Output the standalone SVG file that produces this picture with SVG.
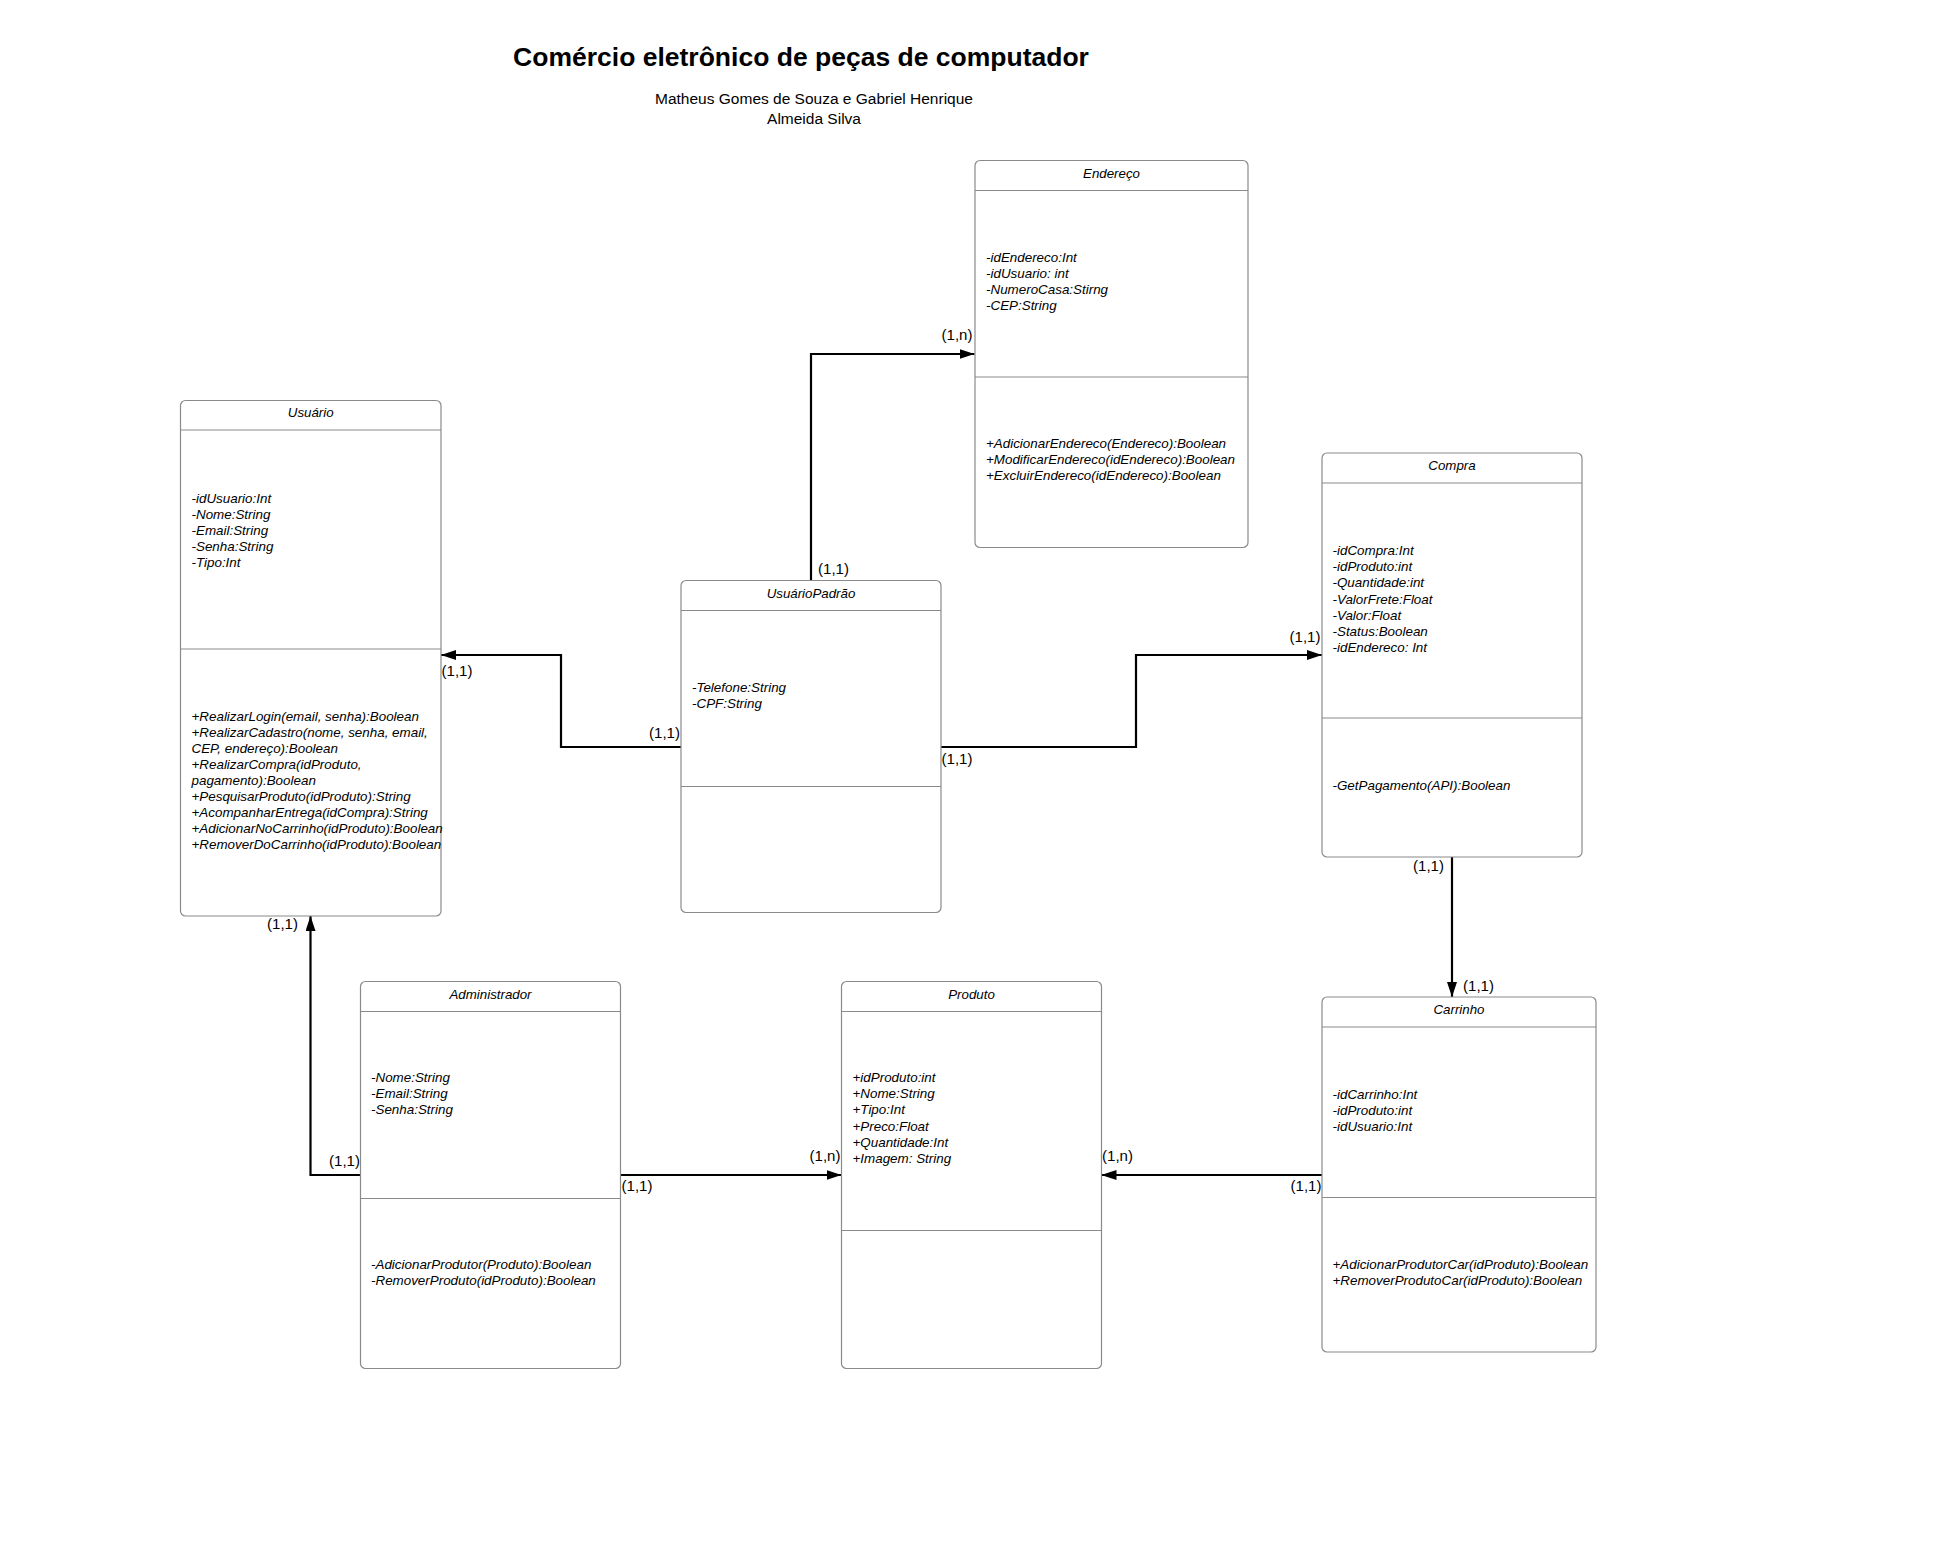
<svg xmlns="http://www.w3.org/2000/svg" width="1936" height="1563" viewBox="0 0 1936 1563">
  <style>
    .box { fill: #ffffff; stroke: #8a8a8a; stroke-width: 1.2; }
    .sep { stroke: #8a8a8a; stroke-width: 1.2; fill: none; }
    .hdr { font-family: "Liberation Sans", Arial, sans-serif; font-style: italic; font-size: 13.3px; fill: #000; text-anchor: middle; }
    .mem { font-family: "Liberation Sans", Arial, sans-serif; font-style: italic; font-size: 13.4px; fill: #000; }
    .edge { fill: none; stroke: #000; stroke-width: 2.2; marker-end: url(#arrow); }
    .card { font-family: "Liberation Sans", Arial, sans-serif; font-size: 15px; fill: #000; text-anchor: middle; }
    .title { font-family: "Liberation Sans", Arial, sans-serif; font-weight: bold; font-size: 26.5px; fill: #000; text-anchor: middle; }
    .sub { font-family: "Liberation Sans", Arial, sans-serif; font-size: 15.5px; fill: #000; text-anchor: middle; }
  </style>
  <defs>
    <marker id="arrow" viewBox="0 0 15 10" refX="15" refY="5" markerWidth="15" markerHeight="10" markerUnits="userSpaceOnUse" orient="auto">
      <path d="M0,0 L15,5 L0,10 Z" fill="#000"/>
    </marker>
  </defs>

  <rect width="1936" height="1563" fill="#ffffff"/>

  <!-- heading -->
  <g id="heading">
    <text class="title" x="801" y="66">Comércio eletrônico de peças de computador</text>
    <text class="sub" x="814" y="104">Matheus Gomes de Souza e Gabriel Henrique</text>
    <text class="sub" x="814" y="123.5">Almeida Silva</text>
  </g>

  <!-- connectors -->
  <g id="connectors">
    <path class="edge" d="M811,580.5 V354 H974.5"/>
    <path class="edge" d="M681,747 H561 V655 H441"/>
    <path class="edge" d="M941,747 H1136 V655 H1322"/>
    <path class="edge" d="M1452,857 V997"/>
    <path class="edge" d="M360.5,1175 H310.5 V916"/>
    <path class="edge" d="M620.5,1175 H841.5"/>
    <path class="edge" d="M1322,1175 H1101.5"/>

    <text class="card" x="833.5" y="574">(1,1)</text>
    <text class="card" x="957" y="340">(1,n)</text>
    <text class="card" x="457" y="676">(1,1)</text>
    <text class="card" x="664.5" y="737.5">(1,1)</text>
    <text class="card" x="957" y="764">(1,1)</text>
    <text class="card" x="1305" y="642">(1,1)</text>
    <text class="card" x="1428.5" y="871">(1,1)</text>
    <text class="card" x="1478.5" y="991">(1,1)</text>
    <text class="card" x="282.5" y="929">(1,1)</text>
    <text class="card" x="344.5" y="1166">(1,1)</text>
    <text class="card" x="637" y="1191">(1,1)</text>
    <text class="card" x="825" y="1161">(1,n)</text>
    <text class="card" x="1117.5" y="1161">(1,n)</text>
    <text class="card" x="1306" y="1191">(1,1)</text>
  </g>

  <!-- class Endereço -->
  <g id="endereco">
    <rect class="box" x="975" y="160.5" width="273" height="387" rx="5"/>
    <line class="sep" x1="975" y1="190.5" x2="1248" y2="190.5"/>
    <line class="sep" x1="975" y1="377" x2="1248" y2="377"/>
    <text class="hdr" x="1111.5" y="177.5">Endereço</text>
    <text class="mem" x="986" y="261.5">-idEndereco:Int</text>
    <text class="mem" x="986" y="277.5">-idUsuario: int</text>
    <text class="mem" x="986" y="293.5">-NumeroCasa:Stirng</text>
    <text class="mem" x="986" y="309.5">-CEP:String</text>
    <text class="mem" x="986" y="448">+AdicionarEndereco(Endereco):Boolean</text>
    <text class="mem" x="986" y="464">+ModificarEndereco(idEndereco):Boolean</text>
    <text class="mem" x="986" y="480">+ExcluirEndereco(idEndereco):Boolean</text>
  </g>

  <!-- class Usuário -->
  <g id="usuario">
    <rect class="box" x="180.5" y="400.5" width="260.5" height="515.5" rx="5"/>
    <line class="sep" x1="180.5" y1="430" x2="441" y2="430"/>
    <line class="sep" x1="180.5" y1="649" x2="441" y2="649"/>
    <text class="hdr" x="310.7" y="417">Usuário</text>
    <text class="mem" x="191.5" y="502.5">-idUsuario:Int</text>
    <text class="mem" x="191.5" y="518.5">-Nome:String</text>
    <text class="mem" x="191.5" y="534.5">-Email:String</text>
    <text class="mem" x="191.5" y="550.5">-Senha:String</text>
    <text class="mem" x="191.5" y="566.5">-Tipo:Int</text>
    <text class="mem" x="191.5" y="720.5">+RealizarLogin(email, senha):Boolean</text>
    <text class="mem" x="191.5" y="736.5">+RealizarCadastro(nome, senha, email,</text>
    <text class="mem" x="191.5" y="752.5">CEP, endereço):Boolean</text>
    <text class="mem" x="191.5" y="768.5">+RealizarCompra(idProduto,</text>
    <text class="mem" x="191.5" y="784.5">pagamento):Boolean</text>
    <text class="mem" x="191.5" y="800.5">+PesquisarProduto(idProduto):String</text>
    <text class="mem" x="191.5" y="816.5">+AcompanharEntrega(idCompra):String</text>
    <text class="mem" x="191.5" y="832.5">+AdicionarNoCarrinho(idProduto):Boolean</text>
    <text class="mem" x="191.5" y="848.5">+RemoverDoCarrinho(idProduto):Boolean</text>
  </g>

  <!-- class UsuárioPadrão -->
  <g id="usuario-padrao">
    <rect class="box" x="681" y="580.5" width="260" height="332" rx="5"/>
    <line class="sep" x1="681" y1="610.5" x2="941" y2="610.5"/>
    <line class="sep" x1="681" y1="786.5" x2="941" y2="786.5"/>
    <text class="hdr" x="811" y="597.5">UsuárioPadrão</text>
    <text class="mem" x="692" y="692">-Telefone:String</text>
    <text class="mem" x="692" y="708">-CPF:String</text>
  </g>

  <!-- class Compra -->
  <g id="compra">
    <rect class="box" x="1322" y="453" width="260" height="404" rx="5"/>
    <line class="sep" x1="1322" y1="483" x2="1582" y2="483"/>
    <line class="sep" x1="1322" y1="718" x2="1582" y2="718"/>
    <text class="hdr" x="1452" y="470">Compra</text>
    <text class="mem" x="1332.5" y="555">-idCompra:Int</text>
    <text class="mem" x="1332.5" y="571.2">-idProduto:int</text>
    <text class="mem" x="1332.5" y="587.4">-Quantidade:int</text>
    <text class="mem" x="1332.5" y="603.6">-ValorFrete:Float</text>
    <text class="mem" x="1332.5" y="619.8">-Valor:Float</text>
    <text class="mem" x="1332.5" y="636">-Status:Boolean</text>
    <text class="mem" x="1332.5" y="652.2">-idEndereco: Int</text>
    <text class="mem" x="1332.5" y="789.5">-GetPagamento(API):Boolean</text>
  </g>

  <!-- class Administrador -->
  <g id="administrador">
    <rect class="box" x="360.5" y="981.5" width="260" height="387" rx="5"/>
    <line class="sep" x1="360.5" y1="1011.5" x2="620.5" y2="1011.5"/>
    <line class="sep" x1="360.5" y1="1198.5" x2="620.5" y2="1198.5"/>
    <text class="hdr" x="490.5" y="998.5">Administrador</text>
    <text class="mem" x="371" y="1082">-Nome:String</text>
    <text class="mem" x="371" y="1098">-Email:String</text>
    <text class="mem" x="371" y="1114">-Senha:String</text>
    <text class="mem" x="371" y="1268.5">-AdicionarProdutor(Produto):Boolean</text>
    <text class="mem" x="371" y="1284.5">-RemoverProduto(idProduto):Boolean</text>
  </g>

  <!-- class Produto -->
  <g id="produto">
    <rect class="box" x="841.5" y="981.5" width="260" height="387" rx="5"/>
    <line class="sep" x1="841.5" y1="1011.5" x2="1101.5" y2="1011.5"/>
    <line class="sep" x1="841.5" y1="1230.5" x2="1101.5" y2="1230.5"/>
    <text class="hdr" x="971.5" y="998.5">Produto</text>
    <text class="mem" x="852.5" y="1082">+idProduto:int</text>
    <text class="mem" x="852.5" y="1098.2">+Nome:String</text>
    <text class="mem" x="852.5" y="1114.4">+Tipo:Int</text>
    <text class="mem" x="852.5" y="1130.6">+Preco:Float</text>
    <text class="mem" x="852.5" y="1146.8">+Quantidade:Int</text>
    <text class="mem" x="852.5" y="1163">+Imagem: String</text>
  </g>

  <!-- class Carrinho -->
  <g id="carrinho">
    <rect class="box" x="1322" y="997" width="274" height="355" rx="5"/>
    <line class="sep" x1="1322" y1="1027" x2="1596" y2="1027"/>
    <line class="sep" x1="1322" y1="1197.5" x2="1596" y2="1197.5"/>
    <text class="hdr" x="1459" y="1014">Carrinho</text>
    <text class="mem" x="1332.5" y="1098.5">-idCarrinho:Int</text>
    <text class="mem" x="1332.5" y="1114.5">-idProduto:int</text>
    <text class="mem" x="1332.5" y="1130.5">-idUsuario:Int</text>
    <text class="mem" x="1332.5" y="1268.5">+AdicionarProdutorCar(idProduto):Boolean</text>
    <text class="mem" x="1332.5" y="1284.5">+RemoverProdutoCar(idProduto):Boolean</text>
  </g>
</svg>
